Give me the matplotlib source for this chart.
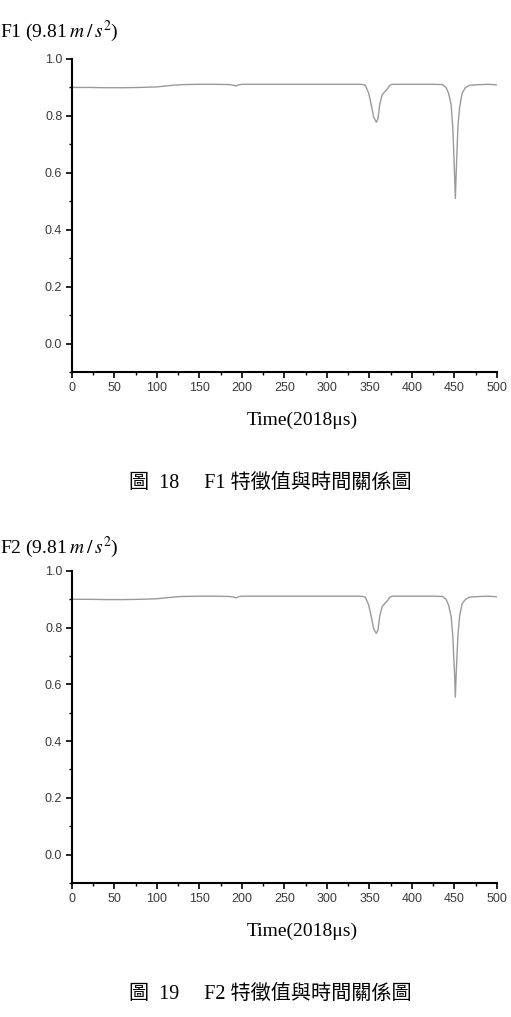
import matplotlib
matplotlib.use("Agg")
import matplotlib.pyplot as plt
from matplotlib.ticker import MultipleLocator

plt.rcParams['mathtext.fontset'] = 'stix'

# 시간축 (샘플 번호)
t = [0, 20, 40, 60, 80, 100, 110, 120, 130, 150, 170, 185, 190, 193, 196, 200,
     220, 250, 280, 300, 320, 340, 345, 349, 352, 355, 358, 360, 362, 365, 368,
     371, 374, 377, 390, 410, 425, 436, 440, 443, 446, 448, 450, 451, 452, 454,
     456, 459, 463, 468, 480, 490, 500]

f1 = [0.900, 0.900, 0.899, 0.899, 0.900, 0.902, 0.905, 0.908, 0.910, 0.911, 0.911,
      0.910, 0.908, 0.905, 0.909, 0.911, 0.911, 0.911, 0.911, 0.911, 0.911, 0.911,
      0.908, 0.880, 0.840, 0.795, 0.778, 0.790, 0.840, 0.875, 0.885, 0.895, 0.908,
      0.911, 0.911, 0.911, 0.911, 0.910, 0.900, 0.880, 0.840, 0.760, 0.600, 0.510,
      0.600, 0.760, 0.830, 0.880, 0.900, 0.908, 0.910, 0.911, 0.909]

f2 = [0.900, 0.900, 0.899, 0.899, 0.900, 0.902, 0.905, 0.908, 0.910, 0.911, 0.911,
      0.910, 0.908, 0.905, 0.909, 0.911, 0.911, 0.911, 0.911, 0.911, 0.911, 0.911,
      0.908, 0.880, 0.840, 0.795, 0.780, 0.792, 0.840, 0.875, 0.885, 0.895, 0.908,
      0.911, 0.911, 0.911, 0.911, 0.910, 0.900, 0.880, 0.840, 0.770, 0.640, 0.555,
      0.640, 0.770, 0.840, 0.885, 0.900, 0.908, 0.910, 0.911, 0.909]

titles = ["F1", "F2"]
captions = ["圖  18     F1 特徵值與時間關係圖", "圖  19     F2 特徵值與時間關係圖"]

fig = plt.figure(figsize=(5.11, 10.17), dpi=100)

# (왼쪽, 아래, 폭, 높이) 픽셀 기준으로 맞춤
axes_pos = [[0.1409, 0.6342, 0.8317, 0.3078],
            [0.1409, 0.1318, 0.8317, 0.3068]]
title_y = [0.969, 0.462]
xlabel_y = [0.587, 0.084]
cap_y = [0.525, 0.022]

for i, ys in enumerate([f1, f2]):
    ax = fig.add_axes(axes_pos[i])
    ax.plot(t, ys, color='#9a9a9a', linewidth=1.0)
    ax.set_xlim(0, 500)
    ax.set_ylim(-0.1, 1.0)
    ax.spines['top'].set_visible(False)
    ax.spines['right'].set_visible(False)
    ax.spines['left'].set_linewidth(1.5)
    ax.spines['bottom'].set_linewidth(1.5)
    ax.xaxis.set_major_locator(MultipleLocator(50))
    ax.xaxis.set_minor_locator(MultipleLocator(25))
    ax.set_yticks([0.0, 0.2, 0.4, 0.6, 0.8, 1.0])
    ax.yaxis.set_minor_locator(MultipleLocator(0.1))
    ax.tick_params(which='major', direction='out', length=4, width=1.2,
                   labelsize=9, labelcolor='#3a3a3a', pad=3)
    ax.tick_params(which='minor', direction='out', length=2.5, width=1.0)
    for lab in ax.get_xticklabels() + ax.get_yticklabels():
        lab.set_family('Liberation Sans')
    ax.yaxis.set_major_formatter(plt.FormatStrFormatter('%.1f'))

    fig.text(0.0, title_y[i], titles[i] + r" (9.81$\;m\,/\,s^{2}$)",
             family='Liberation Serif', fontsize=14, va='center', ha='left')
    fig.text(0.591, xlabel_y[i], "Time(2018μs)", family='Liberation Serif',
             fontsize=14, va='center', ha='center')
    fig.text(0.529, cap_y[i], captions[i],
             family=['Liberation Serif', 'Noto Sans CJK TC'],
             fontsize=14.5, va='center', ha='center')

fig.savefig("out.png", dpi=100)
